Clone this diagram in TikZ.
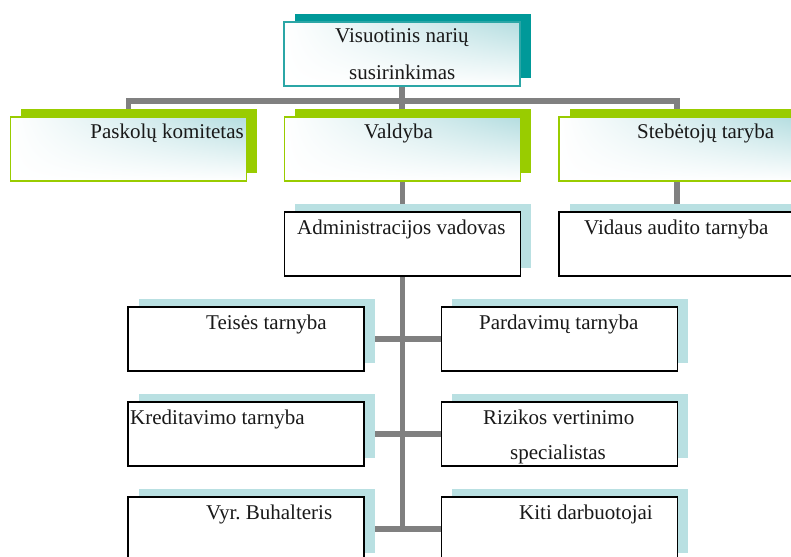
\documentclass[tikz,border=0pt]{standalone}
\usepackage{fontspec}
\setmainfont{Liberation Serif}
\usetikzlibrary{shadows,shadings}
\frenchspacing

\definecolor{connGray}{HTML}{808080}
\definecolor{tealDark}{HTML}{009999}
\definecolor{tealEdge}{HTML}{2BA6A6}
\definecolor{limeG}{HTML}{99CC00}
\definecolor{paleTeal}{HTML}{B9E0E2}
\definecolor{tealGrad}{HTML}{B4DDE0}

\pgfdeclarelayer{bg}
\pgfsetlayers{bg,main}

\begin{document}
\begin{tikzpicture}[x=1pt,y=-1pt,
  box/.style={rectangle, inner sep=0pt, minimum width=236pt, minimum height=64pt},
  gradfill/.style={shade, upper left=white, upper right=tealGrad, lower left=white, lower right=white},
  topbox/.style={box, draw=tealEdge, line width=1.6pt, gradfill,
    general shadow={fill=tealDark, shadow xshift=10.5pt, shadow yshift=8pt}},
  greenbox/.style={box, draw=limeG, line width=1.6pt, gradfill,
    general shadow={fill=limeG, shadow xshift=10.5pt, shadow yshift=8pt}},
  unitbox/.style={box, draw=black, line width=1.3pt, fill=white,
    general shadow={fill=paleTeal, shadow xshift=10.5pt, shadow yshift=8pt}},
  lbl/.style={inner sep=0pt, anchor=base west, text=black!90, font=\fontsize{21}{25}\selectfont},
  conn/.style={draw=connGray, line width=5.5pt}
]
\useasboundingbox (0,0) rectangle (791,556);
\clip (0,0) rectangle (791,556);

% boxes
\node[topbox]   (top)    at (402,54)    {};
\node[greenbox] (pask)   at (128.5,149) {};
\node[greenbox] (vald)   at (402.5,149) {};
\node[greenbox] (steb)   at (677,149)   {};
\node[unitbox]  (admin)  at (402.5,244) {};
\node[unitbox]  (vidaus) at (677,244)   {};
\node[unitbox]  (teises) at (246,339)   {};
\node[unitbox]  (pard)   at (559.5,339) {};
\node[unitbox]  (kred)   at (246,434)   {};
\node[unitbox]  (rizik)  at (559.5,434) {};
\node[unitbox]  (vyr)    at (246,529)   {};
\node[unitbox]  (kiti)   at (559.5,529) {};

% labels
\node[lbl] (topA)   at (335,43)  {Visuotinis narių};
\node[lbl] (topB)   at (349,80)  {susirinkimas};
\node[lbl, anchor=base east] (paskT) at (244,139) {Paskolų komitetas};
\node[lbl] (valdT)  at (364,139) {Valdyba};
\node[lbl] (stebT)  at (637,139) {Stebėtojų taryba};
\node[lbl] (adminT) at (297,234) {Administracijos vadovas};
\node[lbl] (vidT)   at (584,234) {Vidaus audito tarnyba};
\node[lbl] (teiT)   at (206,329) {Teisės tarnyba};
\node[lbl] (parT)   at (479,329) {Pardavimų tarnyba};
\node[lbl] (kreT)   at (130,424) {Kreditavimo tarnyba};
\node[lbl] (rizA)   at (483,424) {Rizikos vertinimo};
\node[lbl] (rizB)   at (510,459) {specialistas};
\node[lbl] (vyrT)   at (206,519) {Vyr. Buhalteris};
\node[lbl] (kitT)   at (519,519) {Kiti darbuotojai};

% connectors behind the boxes
\coordinate (jt) at (402,101);
\begin{pgfonlayer}{bg}
  \draw[conn] (top.south) -- (top.south |- vald.north);
  \draw[conn] (pask.north) -- (pask.north |- jt) -- (steb.north |- jt) -- (steb.north);
  \draw[conn] (vald.south) -- (admin.north);
  \draw[conn] (steb.south) -- (vidaus.north);
  \draw[conn] (admin.south) -- (admin.south |- vyr.east);
  \draw[conn] (teises.east) -- (pard.west);
  \draw[conn] (kred.east) -- (rizik.west);
  \draw[conn] (vyr.east) -- (kiti.west);
\end{pgfonlayer}
\end{tikzpicture}
\end{document}
